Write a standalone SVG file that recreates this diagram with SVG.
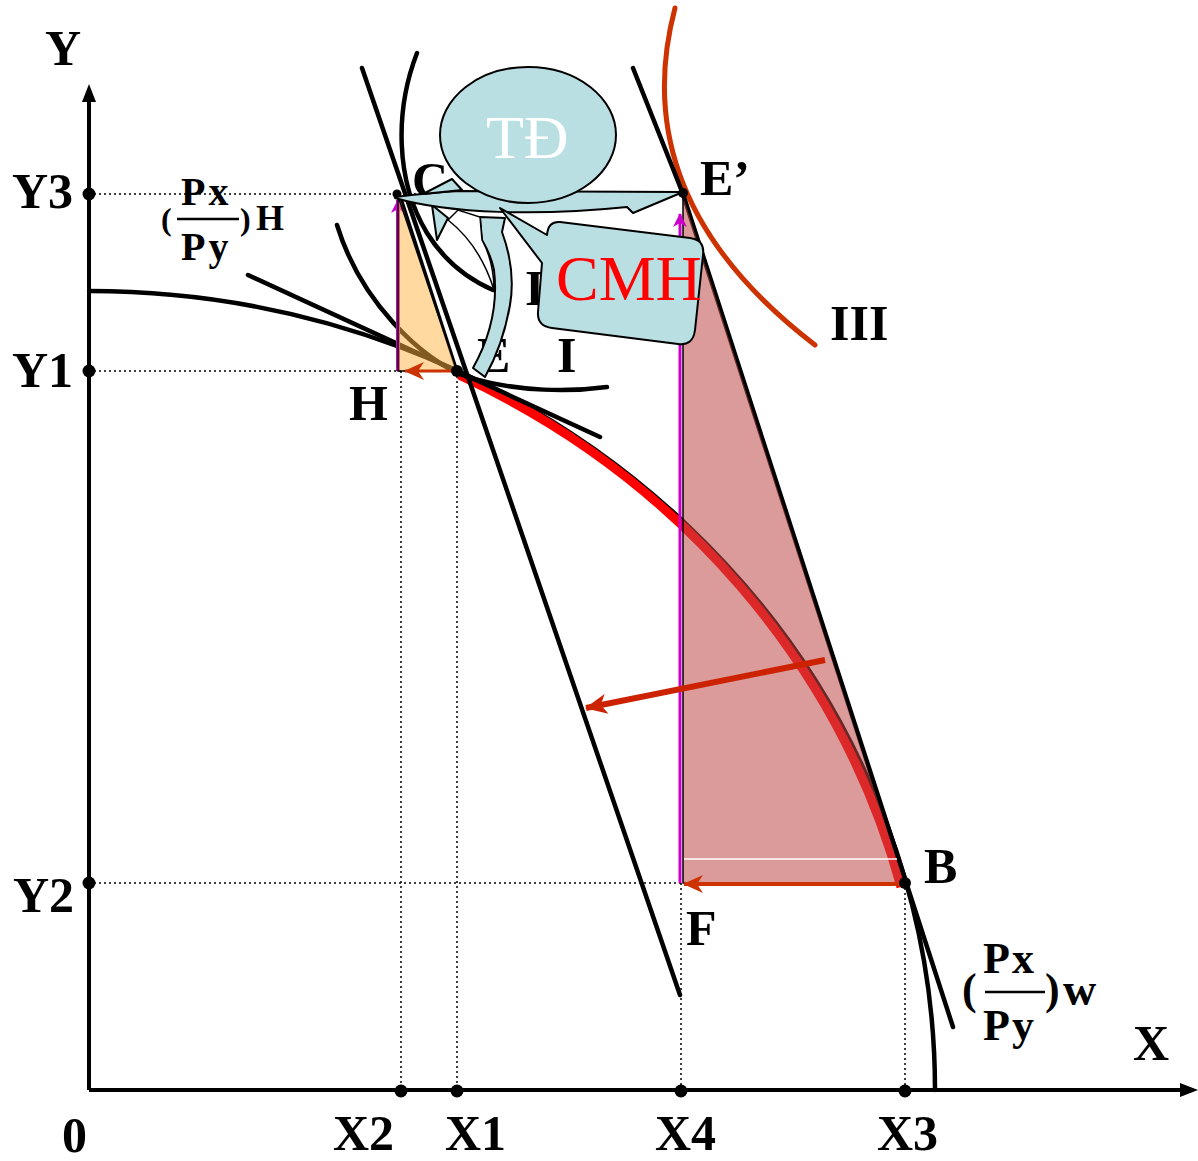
<svg xmlns="http://www.w3.org/2000/svg" width="1198" height="1161" viewBox="0 0 1198 1161">
<style>
.lbl{font-family:"Liberation Serif","Times New Roman",serif;font-weight:bold;font-size:50px;fill:#000}
.frac{font-family:"Liberation Serif","Times New Roman",serif;font-weight:bold;fill:#000}
.dotl{stroke:#000;stroke-width:1.5;stroke-dasharray:2 3;fill:none}
.thick{stroke:#000;stroke-width:4.5;fill:none;stroke-linecap:round}
.blue{fill:#BADFE3;stroke:#000;stroke-width:2;stroke-linejoin:round}
.dot{fill:#000}
</style>
<defs>
<marker id="stealth" markerUnits="userSpaceOnUse" viewBox="0 0 20 20" refX="19" refY="10" markerWidth="20" markerHeight="20" orient="auto">
<path d="M20,10 L0,1 L6,10 L0,19 Z" fill="#CC3300"/>
</marker>
<marker id="stealthBig" markerUnits="userSpaceOnUse" viewBox="0 0 22 20" refX="21" refY="10" markerWidth="22" markerHeight="20" orient="auto">
<path d="M22,10 L0,0 L6,10 L0,20 Z" fill="#CC2200"/>
</marker>
<marker id="mag" markerUnits="userSpaceOnUse" viewBox="0 0 14 14" refX="13" refY="7" markerWidth="14" markerHeight="14" orient="auto">
<path d="M14,7 L0,0 L4,7 L0,14 Z" fill="#CC00CC"/>
</marker>
</defs>

<g id="guides">
<path class="dotl" d="M89,194 H683 M89,371 H457 M89,883 H905 M401,371 V1090 M457,371 V1090 M681,883 V1090 M905,883 V1090"/>
</g>

<g id="axes">
<path d="M89,1090 V98 M89,1090 H1183" stroke="#000" stroke-width="4" fill="none"/>
<polygon points="89,84 82,102 96,102" fill="#000"/>
<polygon points="1198,1090 1180,1083 1180,1097" fill="#000"/>
<circle class="dot" cx="89" cy="194" r="6.5"/>
<circle class="dot" cx="89" cy="371" r="6.5"/>
<circle class="dot" cx="89" cy="883" r="6.5"/>
<circle class="dot" cx="401" cy="1091" r="6.5"/>
<circle class="dot" cx="457" cy="1091" r="6.5"/>
<circle class="dot" cx="681" cy="1091" r="6.5"/>
<circle class="dot" cx="905" cy="1091" r="6.5"/>
</g>

<g id="curves">
<path id="ppf" class="thick" d="M89,291 A846,799 0 0 1 935,1090"/>
<path id="ppf-red" d="M459,375 A838,790 0 0 1 901,887" stroke="#FF0000" stroke-width="9" fill="none"/>
<path id="ic-I" class="thick" d="M337,225 C360,300 420,360 470,378 C520,392 570,392 607,387"/>
<path id="ic-II" class="thick" d="M417,53 C395,110 395,180 427,233 C445,262 470,280 493,290"/>
<path id="ic-III" d="M675,8 C648,110 665,230 815,345" stroke="#CC3300" stroke-width="5" fill="none" stroke-linecap="round"/>
<path id="price-home" class="thick" d="M248,275 L600,437"/>
<path id="budget-left" class="thick" d="M362,68 L680,995"/>
<path id="line-CE" d="M401,198 L457,371" stroke="#000" stroke-width="3" fill="none"/>
<path id="price-world" class="thick" d="M633,68 L683,194 L953,1027"/>
</g>

<g id="shading">
<line x1="398" y1="371" x2="398" y2="200" stroke="#CC00CC" stroke-width="4" marker-end="url(#mag)"/>
<polygon id="tri-orange" points="398,196 398,371 457,371" fill="#FFB340" fill-opacity="0.5" stroke="#000" stroke-width="1.5"/>
<polygon id="tri-red" points="683,194 683,883 905,883" fill="#C04848" fill-opacity="0.55" stroke="#000" stroke-width="1.5"/>
<line x1="684" y1="859" x2="897" y2="859" stroke="#FFFFFF" stroke-width="1.5"/>
<line x1="680" y1="883" x2="680" y2="214" stroke="#CC00CC" stroke-width="3" marker-end="url(#mag)"/>
</g>

<g id="connectors">
<line x1="455" y1="371" x2="405" y2="371" stroke="#CC3300" stroke-width="3" marker-end="url(#stealth)"/>
<line x1="903" y1="884" x2="684" y2="884" stroke="#CC3300" stroke-width="4" marker-end="url(#stealth)"/>
<line x1="825" y1="660" x2="586" y2="708" stroke="#CC2200" stroke-width="6" marker-end="url(#stealthBig)"/>
</g>

<g id="points">
<circle class="dot" cx="397" cy="194" r="4.5"/>
<circle class="dot" cx="457" cy="371" r="6"/>
<circle class="dot" cx="683" cy="193" r="5"/>
<circle class="dot" cx="905" cy="883" r="6"/>
</g>

<g id="labels">
<text class="lbl" x="45" y="65">Y</text>
<text class="lbl" x="12" y="208">Y3</text>
<text class="lbl" x="12" y="387">Y1</text>
<text class="lbl" x="13" y="912">Y2</text>
<text class="lbl" x="62" y="1152">0</text>
<text class="lbl" x="333" y="1150">X2</text>
<text class="lbl" x="445" y="1150">X1</text>
<text class="lbl" x="655" y="1150">X4</text>
<text class="lbl" x="877" y="1150">X3</text>
<text class="lbl" x="1133" y="1060">X</text>
<text class="lbl" x="412" y="197">C</text>
<text class="lbl" x="700" y="195">E&#8217;</text>
<text class="lbl" x="349" y="420">H</text>
<text class="lbl" x="477" y="372">E</text>
<text class="lbl" x="557" y="372">I</text>
<text class="lbl" x="525" y="305">I</text>
<text class="lbl" x="830" y="340">III</text>
<text class="lbl" x="924" y="883">B</text>
<text class="lbl" x="686" y="945">F</text>
</g>

<g id="ratio-H">
<text class="frac" x="161" y="230" font-size="32">(</text>
<text class="frac" x="181" y="205" font-size="40" letter-spacing="3">Px</text>
<line x1="177" y1="219" x2="239" y2="219" stroke="#000" stroke-width="2.5"/>
<text class="frac" x="181" y="260" font-size="40" letter-spacing="3">Py</text>
<text class="frac" x="240" y="230" font-size="32">)</text>
<text class="frac" x="256" y="230" font-size="36">H</text>
</g>

<g id="ratio-W">
<text class="frac" x="962" y="1004" font-size="44">(</text>
<text class="frac" x="983" y="973" font-size="44" letter-spacing="2">Px</text>
<line x1="985" y1="992" x2="1045" y2="992" stroke="#000" stroke-width="2.5"/>
<text class="frac" x="983" y="1040" font-size="44" letter-spacing="2">Py</text>
<text class="frac" x="1045" y="1004" font-size="44">)</text>
<text class="frac" x="1063" y="1005" font-size="46">w</text>
</g>

<g id="callout-shapes">
<path class="blue" d="M473,368 Q500,320 494,270 Q491,255 482,240 L480,217 L505,218 L502,232 Q516,270 510,305 Q503,345 485,377 Z"/>
<path d="M448,220 L458,210 L480,217 L482,240 Q494,262 494,290 Q480,245 448,220 Z" fill="#FFFFFF" stroke="#000" stroke-width="1.5"/>
<polygon class="blue" points="432,205 437,240 448,218"/>
<path class="blue" d="M395,197 C420,194 440,192 460,191 L683,192 L633,213 L627,207 C540,216 450,214 395,198 Z"/>
</g>

<g id="node-TD">
<polygon class="blue" points="452,179 423,194 462,190"/>
<ellipse class="blue" cx="528" cy="135" rx="88" ry="68"/>
<text x="486" y="158" font-family="Liberation Serif, Times New Roman, serif" font-size="62" fill="#FFFFFF">TĐ</text>
</g>

<g id="node-CMH">
<path class="blue" d="M560,222 L690,238 Q705,240 703,255 L695,330 Q693,346 678,344 L552,328 Q537,326 538,312 L542,263 L500,208 L547,235 Q548,221 560,222 Z"/>
<text x="556" y="300" font-family="Liberation Serif, Times New Roman, serif" font-size="64" fill="#FF0000">CMH</text>
</g>
</svg>
